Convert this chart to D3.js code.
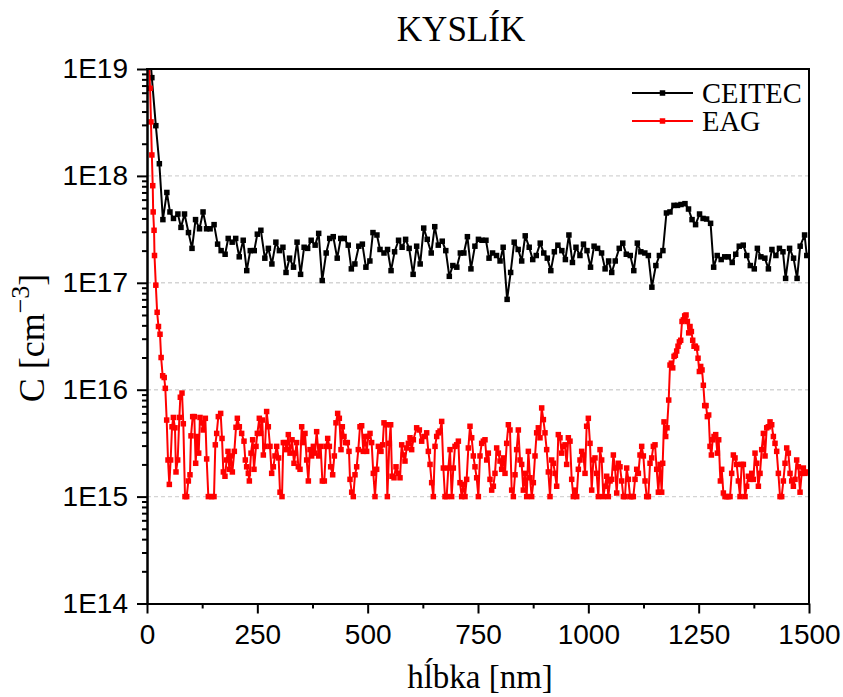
<!DOCTYPE html>
<html><head><meta charset="utf-8">
<script src="https://cdn.jsdelivr.net/npm/d3@7"></script>
<style>body{margin:0;background:#fff}svg{display:block}</style>
</head><body><svg id="c" width="843" height="697"></svg>
<script>
const chartTitle = "KYSLÍK";
const xLabel = "hĺbka [nm]";
const xTicks = [0, 250, 500, 750, 1000, 1250, 1500];
const xMinorTicks = [125, 375, 625, 875, 1125, 1375];
const yTicks = [1e14, 1e15, 1e16, 1e17, 1e18, 1e19];
const yTickLabels = ["1E14", "1E15", "1E16", "1E17", "1E18", "1E19"];
const seriesNames = ["CEITEC", "EAG"];
const seriesColors = ["#000000", "#ff0000"];

// [depth nm, concentration cm^-3]
const ceitec = [[3,2.2e19],[11,8.3e18],[20,2.95e18],[28,1.3e18],[36,3.9e17],[45,7.0e17],[52,4.6e17],[60,4.0e17],[70,4.4e17],[77,3.3e17],[85,4.4e17],[94,2.95e17],[102,2.1e17],[110,3.9e17],[119,3.2e17],[127,4.6e17],[135,3.2e17],[143,3.2e17],[152,3.5e17],[160,2.3e17],[168,2.0e17],[177,1.85e17],[184,2.6e17],[193,2.4e17],[201,2.6e17],[209,1.75e17],[218,2.5e17],[226,1.3e17],[234,2.0e17],[243,2.0e17],[250,2.85e17],[258,3.1e17],[267,1.7e17],[275,2.1e17],[283,1.5e17],[292,2.4e17],[300,2.0e17],[308,2.15e17],[315,1.25e17],[323,1.7e17],[332,1.4e17],[340,2.4e17],[348,1.2e17],[356,2.15e17],[364,2.1e17],[372,2.5e17],[381,2.25e17],[389,2.9e17],[397,1.05e17],[406,1.9e17],[414,2.6e17],[422,2.7e17],[431,1.7e17],[439,2.6e17],[447,2.6e17],[456,2.25e17],[463,1.35e17],[471,1.5e17],[480,2.2e17],[488,2.3e17],[496,1.4e17],[505,1.6e17],[512,2.95e17],[521,2.8e17],[528,2.05e17],[537,1.9e17],[545,2.05e17],[553,1.3e17],[561,1.95e17],[570,2.5e17],[578,2.15e17],[586,2.55e17],[594,2.1e17],[603,1.2e17],[611,2.2e17],[619,1.5e17],[627,3.25e17],[635,2.55e17],[644,1.9e17],[652,3.35e17],[660,2.25e17],[669,2.45e17],[677,2.0e17],[685,1.15e17],[693,1.45e17],[702,1.4e17],[710,1.9e17],[718,1.9e17],[726,2.7e17],[734,1.35e17],[743,2.2e17],[751,2.55e17],[759,2.5e17],[768,2.5e17],[775,1.7e17],[783,1.9e17],[792,1.8e17],[800,1.6e17],[807,2.15e17],[816,7.0e16],[824,1.25e17],[832,2.4e17],[841,2.05e17],[849,1.6e17],[857,2.75e17],[866,2.15e17],[874,1.65e17],[882,1.8e17],[891,2.35e17],[899,1.9e17],[907,1.7e17],[915,1.3e17],[923,1.95e17],[931,2.25e17],[940,2.0e17],[948,1.65e17],[956,2.8e17],[964,1.55e17],[972,2.15e17],[981,1.8e17],[989,2.3e17],[997,2.0e17],[1005,1.4e17],[1013,2.2e17],[1021,2.1e17],[1030,1.9e17],[1038,1.35e17],[1046,1.6e17],[1053,1.25e17],[1061,1.6e17],[1070,2.1e17],[1078,2.35e17],[1086,1.85e17],[1095,1.8e17],[1103,1.3e17],[1111,2.35e17],[1119,1.95e17],[1128,1.9e17],[1136,1.8e17],[1144,9.1e16],[1153,1.45e17],[1161,1.8e17],[1169,2.0e17],[1177,4.5e17],[1185,4.6e17],[1194,5.3e17],[1202,5.3e17],[1210,5.4e17],[1219,5.5e17],[1227,4.9e17],[1235,3.9e17],[1243,3.5e17],[1252,4.4e17],[1260,4.0e17],[1268,3.95e17],[1277,3.6e17],[1284,1.4e17],[1292,1.8e17],[1301,1.65e17],[1309,1.75e17],[1317,1.75e17],[1326,1.55e17],[1334,1.85e17],[1342,2.2e17],[1351,2.25e17],[1359,1.8e17],[1367,1.45e17],[1376,1.35e17],[1383,2.1e17],[1391,1.75e17],[1400,1.7e17],[1408,1.35e17],[1416,2.05e17],[1425,1.8e17],[1433,2.1e17],[1441,1.95e17],[1447,1.1e17],[1456,2.1e17],[1465,1.7e17],[1473,1.1e17],[1480,2.2e17],[1490,2.8e17],[1495,1.8e17]];

const eag = [[3,1.6e19],[7,6.6e18],[9,3.2e18],[11,1.57e18],[13,8.1e17],[14,4.6e17],[16,3.1e17],[17,1.8e17],[20,9.5e16],[23,5.3e16],[26,3.9e16],[29.5,3.3e16],[32,2.0e16],[35.5,1.35e16],[39,1.3e16],[41.5,1.03e16],[44.6,5.2e15],[47.6,2.2e15],[50.6,1.3e15],[53.6,2.2e15],[56.7,4.5e15],[59.7,5.5e15],[63.4,4.4e15],[65.7,1.7e15],[69.5,2.2e15],[73.3,5.5e15],[75.5,8.5e15],[79.3,9.3e15],[82.3,4.8e15],[86.1,1e15],[89.9,1e15],[93.7,1.4e15],[97.4,1.6e15],[99.7,3.7e15],[103.5,5.6e15],[107.2,5.6e15],[110.3,2.05e15],[113.3,3.65e15],[117.1,2.55e15],[120.1,5.5e15],[123.9,4.9e15],[127.6,4.2e15],[132.2,5.4e15],[135.2,2.25e15],[139,1e15],[146.5,1e15],[151.8,1e15],[154.8,3.05e15],[157.9,3.9e15],[161.6,5.6e15],[166.9,6.0e15],[170,3.5e15],[173,1.7e15],[176.7,1.55e15],[180.5,2.2e15],[183.5,2.65e15],[186.6,1.8e15],[189.6,2.4e15],[193.4,1.7e15],[197.9,2.65e15],[201.7,4.45e15],[204.7,5.4e15],[209.2,4.5e15],[214.5,3.9e15],[219.8,3.3e15],[222.8,2.2e15],[225.8,1.9e15],[229.6,1.65e15],[231.9,1.4e15],[235.7,2.55e15],[239.4,3.4e15],[242.4,1.8e15],[247,2.95e15],[250,3.9e15],[254.5,5.4e15],[257.6,3.9e15],[261.3,5.2e15],[263.6,2.45e15],[267.4,2.95e15],[271.1,6.25e15],[274.9,4.5e15],[278.7,2.95e15],[282.5,1.65e15],[286.3,1.9e15],[290,2.4e15],[293.8,2.95e15],[298.3,2.3e15],[301.4,1.1e15],[305.9,1e15],[308.9,3.2e15],[312.7,3.2e15],[316.5,2.75e15],[320.2,3.8e15],[324,2.55e15],[328.6,3.4e15],[333.1,2.05e15],[336.1,2.55e15],[339.1,3.2e15],[342.9,1.9e15],[346.7,1.8e15],[350.5,4.5e15],[354.2,3.2e15],[358,3.9e15],[361.8,2.2e15],[365.6,1.4e15],[369.3,2.75e15],[373.1,2.4e15],[376.9,2.95e15],[380.7,2.55e15],[384.4,4.05e15],[389,2.4e15],[393.5,2.95e15],[397.3,1.4e15],[401.8,1.4e15],[405.6,2.95e15],[409.4,3.5e15],[413.2,2.95e15],[416.2,1.9e15],[420.7,1.6e15],[424.5,2.4e15],[428.2,4.9e15],[432,6.0e15],[435.8,5.4e15],[439.6,2.75e15],[442.6,4.5e15],[446.4,3.65e15],[450.2,3.2e15],[453.9,3.2e15],[457.7,2.65e15],[460,1.45e15],[463.8,1.1e15],[467.5,1e15],[471.3,1.6e15],[475.1,1.9e15],[478.8,2.75e15],[482.6,4.5e15],[486.4,4.6e15],[490.2,2.65e15],[494,3.65e15],[497.7,2.65e15],[501.5,3.65e15],[505.3,3.9e15],[509,3.2e15],[512.8,1.65e15],[516.6,1e15],[520.4,1.8e15],[524.2,2.95e15],[530.2,2.65e15],[534,3.05e15],[537,4.9e15],[541.6,4.7e15],[544.6,1e15],[549.1,3.15e15],[552.1,4.7e15],[555.2,1.55e15],[559.7,1.5e15],[564.2,1.9e15],[569.5,1.65e15],[573.3,1.5e15],[577.1,3.05e15],[580.8,2.45e15],[584.6,2.15e15],[588.4,2.85e15],[592.2,3.15e15],[595.9,3.55e15],[599.7,2.75e15],[603.5,3.4e15],[611,4.4e15],[617.1,4.2e15],[622.4,3.3e15],[627.7,3.65e15],[633.7,3.95e15],[637.5,2.65e15],[641.3,2.0e15],[645,1.35e15],[648.8,1e15],[652.6,2.95e15],[656.4,3.65e15],[660.1,3.95e15],[663.9,4.1e15],[667.7,5.05e15],[671.5,1.85e15],[675.2,1e15],[679,1e15],[682.8,1.85e15],[686.6,2.75e15],[690.3,1e15],[694.1,1.85e15],[697.9,2.95e15],[701.7,3.05e15],[705.5,3.3e15],[709.2,1.35e15],[713,1e15],[716.8,1.3e15],[720.6,1e15],[724.3,1.45e15],[728.1,2.85e15],[731.9,4.55e15],[735.7,3.55e15],[739.4,2.4e15],[743.2,1.9e15],[747,1.5e15],[750.8,1e15],[754.5,2.4e15],[758.3,3.15e15],[762.1,3.3e15],[765.9,3.4e15],[769.7,2.2e15],[773.4,2.55e15],[777.2,1.45e15],[781,1.15e15],[784.8,1.25e15],[788.5,1.65e15],[792.3,2.85e15],[796.1,2.55e15],[799.9,2.15e15],[803.6,1.8e15],[807.4,2.3e15],[811.2,1.65e15],[815,3.15e15],[818.8,4.7e15],[822.5,4.2e15],[826.3,1.15e15],[830.1,1e15],[833.9,1.6e15],[837.6,2.75e15],[841.4,4.2e15],[845.2,2.2e15],[849,2.0e15],[852.7,1.15e15],[856.5,1.65e15],[860.3,1e15],[864.1,2.65e15],[867.8,1.5e15],[871.6,1e15],[875.4,1.35e15],[879.2,2.4e15],[882.9,3.95e15],[886.7,4.4e15],[890.5,3.55e15],[894.3,6.75e15],[898.1,5.25e15],[901.8,3.95e15],[905.6,2.75e15],[909.4,1.7e15],[913.2,1e15],[916.9,2.2e15],[920.7,2.05e15],[924.5,1.65e15],[928.3,1.25e15],[932,3.8e15],[935.8,3.55e15],[939.6,2.55e15],[943.4,2.95e15],[947.2,3.05e15],[950.9,2.0e15],[954.7,3.55e15],[958.5,3.3e15],[962.3,1.45e15],[966,1e15],[969.8,1.15e15],[973.6,1e15],[977.4,1.8e15],[981.1,2.2e15],[984.9,2.65e15],[988.7,2.45e15],[992.5,1.65e15],[996.2,4.55e15],[1000,5.4e15],[1003.8,3.15e15],[1007.6,1.15e15],[1011.4,2.2e15],[1015.1,2.3e15],[1018.9,1.65e15],[1022.7,1e15],[1026.5,2.75e15],[1030.2,2.2e15],[1034,1e15],[1037.8,1.25e15],[1041.6,1.55e15],[1045.3,1e15],[1049.2,1.4e15],[1052.9,1.45e15],[1056.7,2.45e15],[1060.5,1.85e15],[1064.3,1.08e15],[1068,2.05e15],[1071.8,1.9e15],[1075.6,1.4e15],[1079.4,1e15],[1083.1,1e15],[1086.9,1.85e15],[1090.7,1.45e15],[1094.5,1e15],[1098.3,1e15],[1102,1e15],[1105.8,1.45e15],[1109.6,1.8e15],[1113.4,1.65e15],[1117.1,2.45e15],[1120.9,2.95e15],[1124.7,2.4e15],[1128.5,1.4e15],[1132.2,1e15],[1136,1e15],[1139.8,2.05e15],[1143.6,2.3e15],[1147.3,2.95e15],[1151.1,3.05e15],[1154.9,1.8e15],[1158.7,1.1e15],[1162.5,2.0e15],[1166.2,1.1e15],[1168.5,2.05e15],[1171.5,5.0e15],[1175.3,3.65e15],[1178.3,4.4e15],[1182.1,8.0e15],[1185.1,1.7e16],[1188.1,1.77e16],[1191.2,1.6e16],[1194.2,2.05e16],[1197.2,2.1e16],[1200.2,2.3e16],[1203.2,2.55e16],[1206.3,2.8e16],[1209.3,2.9e16],[1212.3,4.35e16],[1215.3,4.5e16],[1218.3,4.9e16],[1221.4,5.0e16],[1224.4,4.35e16],[1227.4,3.4e16],[1230.4,3.9e16],[1233.5,3.5e16],[1236.5,2.9e16],[1239.5,2.55e16],[1242.5,2.55e16],[1245.5,2.45e16],[1248.6,1.97e16],[1251.6,1.48e16],[1254.6,1.65e16],[1257.6,1.53e16],[1260.6,1.1e16],[1263.7,7.1e15],[1266.7,7.1e15],[1269.7,5.6e15],[1272.7,5.8e15],[1275.7,2.95e15],[1278.8,2.45e15],[1281.8,3.4e15],[1284.8,3.65e15],[1288.6,3.8e15],[1292.4,2.55e15],[1295.4,3.4e15],[1299.2,1.4e15],[1302.2,1.8e15],[1306,1.08e15],[1309.7,1e15],[1313.5,1e15],[1317.3,1e15],[1321.1,1e15],[1324.8,1.65e15],[1328.6,2.45e15],[1332.4,2.3e15],[1336.2,2.0e15],[1340,1.4e15],[1343.7,1e15],[1347.5,2.0e15],[1351.3,2.0e15],[1355.1,1e15],[1358.8,1.25e15],[1362.6,1.55e15],[1366.4,1.45e15],[1370.2,1.65e15],[1373.9,1.45e15],[1377.7,2.55e15],[1381.5,2.05e15],[1385.3,1.25e15],[1389,1.65e15],[1392.8,2.75e15],[1396.6,3.9e15],[1400.4,2.4e15],[1404.2,4.4e15],[1407.9,4.5e15],[1411.7,5.0e15],[1415.5,4.7e15],[1419.3,3.65e15],[1423,3.15e15],[1426.8,2.65e15],[1430.6,1.65e15],[1434.4,1e15],[1438.1,1e15],[1441.9,1.4e15],[1445.7,2.05e15],[1449.5,2.85e15],[1453.2,2.55e15],[1457,1.65e15],[1460.8,1.4e15],[1464.6,1.25e15],[1468.3,1.45e15],[1472.1,2.2e15],[1475.9,1.9e15],[1479.7,1.1e15],[1483.5,1.65e15],[1487.2,1.85e15],[1491,1.65e15],[1494.8,1.7e15]];

const series = [ceitec, eag];

const svg = d3.select("#c");
const L = 147, R = 809, T = 69, B = 603.5;
const x = d3.scaleLinear().domain([0, 1500]).range([L, R]);
const y = d3.scaleLog().domain([1e14, 1e19]).range([B, T]);

const sans = "'Liberation Sans', Arial, sans-serif";
const serif = "'Liberation Serif', 'Times New Roman', serif";

// grid
svg.append("g").selectAll("line").data(yTicks.slice(1, -1)).join("line")
  .attr("x1", L).attr("x2", R).attr("y1", d => y(d)).attr("y2", d => y(d))
  .attr("stroke", "#d4d4d4").attr("stroke-width", 1.4).attr("stroke-dasharray", "4,3");

// clip
svg.append("defs").append("clipPath").attr("id", "pc").append("rect")
  .attr("x", L).attr("y", T).attr("width", R - L).attr("height", B - T);

const line = d3.line().x(d => x(d[0])).y(d => y(d[1]));
const plot = svg.append("g").attr("clip-path", "url(#pc)");
const ms = 5.5;
series.forEach((s, i) => {
  const g = plot.append("g");
  g.append("path").datum(s).attr("d", line).attr("fill", "none")
    .attr("stroke", seriesColors[i]).attr("stroke-width", 2).attr("stroke-linejoin", "round");
  g.selectAll("rect").data(s).join("rect")
    .attr("x", d => x(d[0]) - ms / 2).attr("y", d => y(d[1]) - ms / 2)
    .attr("width", ms).attr("height", ms).attr("fill", seriesColors[i]);
});

// minor tick values for log axis
const yMinor = [];
for (let e = 14; e < 19; e++) for (let k = 2; k <= 9; k++) yMinor.push(k * Math.pow(10, e));

function styleAxis(g) {
  g.selectAll("path.domain").attr("stroke", "#000").attr("stroke-width", 2);
  g.selectAll(".tick line").attr("stroke", "#000").attr("stroke-width", 2);
  g.selectAll("text").attr("font-family", sans).attr("font-size", 28).attr("fill", "#000");
}

svg.append("g").attr("transform", `translate(${L},0)`)
  .call(d3.axisLeft(y).tickValues(yMinor).tickFormat("").tickSize(5).tickSizeOuter(0))
  .call(styleAxis);
svg.append("g").attr("transform", `translate(${L},0)`)
  .call(d3.axisLeft(y).tickValues(yTicks).tickFormat((d, i) => yTickLabels[i]).tickSize(10).tickPadding(9).tickSizeOuter(0))
  .call(styleAxis);
svg.append("g").attr("transform", `translate(0,${B})`)
  .call(d3.axisBottom(x).tickValues(xMinorTicks).tickFormat("").tickSize(5).tickSizeOuter(0))
  .call(styleAxis);
svg.append("g").attr("transform", `translate(0,${B})`)
  .call(d3.axisBottom(x).tickValues(xTicks).tickFormat(d3.format("d")).tickSize(10).tickPadding(11).tickSizeOuter(0))
  .call(styleAxis);

// frame top/right
svg.append("line").attr("x1", L - 1).attr("x2", R + 1).attr("y1", T).attr("y2", T).attr("stroke", "#000").attr("stroke-width", 2);
svg.append("line").attr("x1", R).attr("x2", R).attr("y1", T).attr("y2", B).attr("stroke", "#000").attr("stroke-width", 2);

// title
svg.append("text").attr("x", 461).attr("y", 41).attr("text-anchor", "middle")
  .attr("font-family", serif).attr("font-size", 35).text(chartTitle);

// x label
svg.append("text").attr("x", 480).attr("y", 688).attr("text-anchor", "middle")
  .attr("font-family", serif).attr("font-size", 33).text(xLabel);

// y label
const yl = svg.append("text").attr("transform", "translate(44,338) rotate(-90)")
  .attr("text-anchor", "middle").attr("font-family", serif).attr("font-size", 36);
yl.append("tspan").text("C [cm");
yl.append("tspan").attr("dy", -15).attr("font-size", 26).text("−3");
yl.append("tspan").attr("dy", 15).text("]");

// legend
const legY = [93, 121];
seriesNames.forEach((n, i) => {
  const g = svg.append("g");
  g.append("line").attr("x1", 632).attr("x2", 693).attr("y1", legY[i]).attr("y2", legY[i])
    .attr("stroke", seriesColors[i]).attr("stroke-width", 2);
  g.append("rect").attr("x", 662.5 - ms / 2).attr("y", legY[i] - ms / 2).attr("width", ms).attr("height", ms).attr("fill", seriesColors[i]);
  g.append("text").attr("x", 702).attr("y", legY[i] + 10).attr("font-family", serif).attr("font-size", 28.5).text(n);
});
</script></body></html>
